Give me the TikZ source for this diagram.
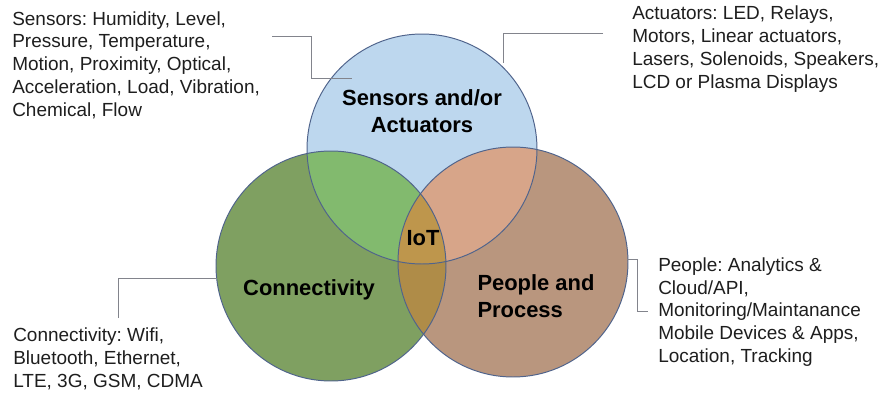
\documentclass[tikz,border=0pt]{standalone}
\usepackage{fontspec}
\setmainfont{Liberation Sans}
\usetikzlibrary{calc}
\frenchspacing

\definecolor{sensblue}{RGB}{189,215,238}
\definecolor{conngreen}{RGB}{127,160,97}
\definecolor{peoplebrown}{RGB}{185,150,126}
\definecolor{bgmix}{RGB}{130,186,110}
\definecolor{bpmix}{RGB}{215,165,137}
\definecolor{gpmix}{RGB}{175,140,72}
\definecolor{iotgold}{RGB}{190,150,76}
\definecolor{rimslate}{RGB}{80,100,140}
\definecolor{leadgray}{RGB}{130,132,140}
\definecolor{notegray}{RGB}{30,30,30}

\tikzset{
  note/.style={anchor=west, align=left, inner sep=0pt, text=notegray,
    font=\fontsize{13.5}{16.2}\selectfont},
  title/.style={align=center, inner sep=0pt, text=black,
    font=\fontsize{15.6}{19.2}\selectfont\bfseries},
  rim/.style={draw=rimslate, line width=0.7pt},
  callout/.style={draw=leadgray, line width=0.6pt}
}

\begin{document}
\begin{tikzpicture}
    \useasboundingbox (0,0) rectangle (22.125,9.8);

    \coordinate (blue) at (10.55,6.075);   %sensors
    \coordinate (green) at (8.275,3.15);   %connectivity
    \coordinate (brown) at (12.825,3.25);  %people

    % plain discs
    \fill[sensblue] (blue) circle (2.875);
    \fill[conngreen] (green) circle (2.875);
    \fill[peoplebrown] (brown) circle (2.875);

    % overlaps
    \begin{scope}
        \clip (blue) circle (2.875);
        \fill[bgmix] (green) circle (2.875);
        \fill[bpmix] (brown) circle (2.875);
    \end{scope}
    \begin{scope}
        \clip (green) circle (2.875);
        \fill[gpmix] (brown) circle (2.875);
        \clip (blue) circle (2.875);
        \fill[iotgold] (brown) circle (2.875);
    \end{scope}

    \draw[rim] (blue) circle (2.875);
    \draw[rim] (green) circle (2.875);
    \draw[rim] (brown) circle (2.875);

    \node[title] (sensact) at (10.55,7.025) {Sensors and/or\\Actuators};
    \node[title] (iot) at (10.575,3.85) {IoT};
    \node[title] (conn) at (7.725,2.55) {Connectivity};
    \node[title, align=left] (people) at (13.4,2.4) {People and\\Process};

    \node[note] (sensors) at (0.3,8.175)
        {Sensors: Humidity, Level,\\Pressure, Temperature,\\Motion, Proximity, Optical,\\Acceleration, Load, Vibration,\\Chemical, Flow};
    \node[note] (actuators) at (15.8,8.575)
        {Actuators: LED, Relays,\\Motors, Linear actuators,\\Lasers, Solenoids, Speakers,\\LCD or Plasma Displays};
    \node[note] (connlist) at (0.325,0.825)
        {Connectivity: Wifi,\\Bluetooth, Ethernet,\\LTE, 3G, GSM, CDMA};
    \node[note] (peoplelist) at (16.45,2.0)
        {People: Analytics \&\\Cloud/API,\\Monitoring/Maintanance\\Mobile Devices \& Apps,\\Location, Tracking};

    % callout ends
    \coordinate (s1) at (6.8,8.9);
    \coordinate (s2) at (7.775,8.9);
    \coordinate (s3) at (7.775,7.85);
    \coordinate (s4) at (8.8,7.85);
    \coordinate (a1) at (15.075,8.975);
    \coordinate (a2) at (12.575,8.975);
    \coordinate (a3) at (12.575,8.225);
    \coordinate (c1) at (2.95,1.85);
    \coordinate (c2) at (2.95,2.85);
    \coordinate (c3) at (5.425,2.85);
    \coordinate (p1) at (15.675,3.325);
    \coordinate (p2) at (15.925,3.325);
    \coordinate (p3) at (15.925,2.025);
    \coordinate (p4) at (16.2,2.025);

    \draw[callout] (s1) -- (s2) -- (s3) -- (s4); %sensors
    \draw[callout] (a1) -- (a2) -- (a3); %actuators
    \draw[callout] (c1) -- (c2) -- (c3); %connectivity
    \draw[callout] (p1) -- (p2) -- (p3) -- (p4); %people
\end{tikzpicture}
\end{document}
